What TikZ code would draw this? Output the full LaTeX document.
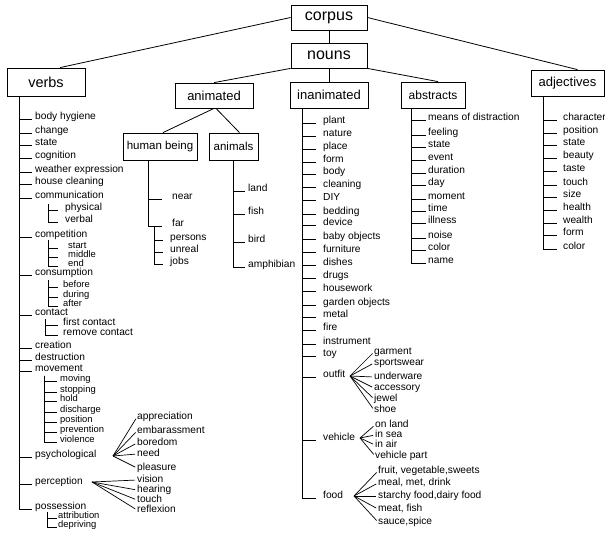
\documentclass[tikz,border=0pt]{standalone}
\usepackage{fontspec}
\setmainfont{Liberation Sans}
\tikzset{
  category/.style={draw, line width=0.8pt, inner sep=0pt, minimum height=26pt,
    font=\fontsize{13}{15}\selectfont},
  leaf/.style={anchor=west, inner sep=0pt, text height=7.5pt, text depth=2pt,
    font=\fontsize{10.2}{12}\selectfont},
  tight leaf/.style={text height=6.5pt, text depth=1.5pt, font=\fontsize{9.4}{10}\selectfont},
  twig/.style={line width=0.7pt},
  link/.style={line width=0.8pt},
}
\newcommand{\tikzleaves}[5][]{%
% ticks hang from the coordinate #2-trunk
\foreach \y/\lbl [count=\i] in {#5} {%
  \node[leaf,#1] (#2-\i) at (#4,\y) {\lbl};
  \draw[twig] (#2-trunk) |- ([xshift=-#3pt,yshift=-2pt]#2-\i.west);
}
}
\newcommand{\tikzfan}[3]{%
% rays start at the coordinate #1-fan
\foreach \y/\lbl [count=\i] in {#3} {%
  \node[leaf] (#1-\i) at (#2,\y) {\lbl};
  \draw[twig,shorten >=2pt] (#1-fan) -- (#1-\i.west);
}
}
\begin{document}
\begin{tikzpicture}[x=1pt, y=-1pt]
\useasboundingbox (0,0) rectangle (605,534);
% categories
\node[category, minimum width=76pt, minimum height=25pt, font=\fontsize{16}{18}\selectfont] (corpus) at (329,17.5) {corpus};
\node[category, minimum width=76pt, minimum height=25pt, font=\fontsize{16}{18}\selectfont] (nouns) at (329,55.5) {nouns};
\node[category, minimum width=78pt, minimum height=28pt, font=\fontsize{14.5}{16}\selectfont] (verbs) at (46,82) {verbs};
\node[category, minimum width=78pt, minimum height=25pt] (animated) at (214,95.5) {animated};
\node[category, minimum width=78pt] (inanimated) at (329,95) {inanimated};
\node[category, minimum width=64pt, font=\fontsize{12}{14}\selectfont] (abstracts) at (433,95) {abstracts};
\node[category, minimum width=73pt] (adjectives) at (567.5,83) {adjectives};
\node[category, minimum width=74pt, minimum height=27pt, font=\fontsize{11.5}{13}\selectfont] (human) at (160,146.5) {human being};
\node[category, minimum width=49pt, minimum height=27pt, font=\fontsize{11.5}{13}\selectfont] (animals) at (233.5,146.5) {animals};

\draw[link] (corpus.west) -- ([xshift=14pt]verbs.north);
\draw[link] (corpus.east) -- ([xshift=10pt]adjectives.north);
\draw[link] (corpus) -- (nouns);
\draw[link] (nouns.south west) -- (animated.north);
\draw[link] (nouns) -- (inanimated);
\draw[link] (nouns.south east) -- ([xshift=5pt]abstracts.north);
\draw[link] (animated.south) -- ([xshift=3pt]human.north);
\draw[link] ([xshift=2pt]animated.south) -- ([xshift=6pt]animals.north);

% verbs
\coordinate (verb-trunk) at ([xshift=13pt]verbs.south west);
\tikzleaves{verb}{3}{35}{117/body hygiene, 131/change, 143/state, 156/cognition,
  170/weather expression, 182/house cleaning, 196/communication, 235/competition,
  273/consumption, 313/contact, 346/creation, 358/destruction, 369/movement,
  455/psychological, 482/perception, 507/possession}
\coordinate (comm-trunk) at (48,204);
\tikzleaves{comm}{7}{65}{208/physical, 220/verbal}
\coordinate (compet-trunk) at (48,240);
\tikzleaves[tight leaf]{compet}{10}{68}{246/start, 255/middle, 264/end}
\coordinate (consum-trunk) at (48,280);
\tikzleaves[tight leaf]{consum}{5}{63}{285/before, 295/during, 304/after}
\coordinate (contact-trunk) at (45,319);
\tikzleaves{contact}{5}{63}{323/first contact, 333/remove contact}
\coordinate (move-trunk) at (44,376);
\tikzleaves[tight leaf]{move}{3}{60}{379/moving, 390/stopping, 399/hold, 410/discharge,
  420/position, 430/prevention, 440/violence}
\coordinate (poss-trunk) at (47,512);
\tikzleaves[tight leaf]{poss}{1}{58}{516/attribution, 525/depriving}
\coordinate (psych-fan) at (113,456);
\tikzfan{psych}{137}{417/appreciation, 431/embarassment, 443/boredom, 454/need, 468/pleasure}
\coordinate (percep-fan) at (92,482);
\tikzfan{percep}{137}{480/vision, 490/hearing, 500/touch, 510/reflexion}

% animated
\coordinate (human-trunk) at ([xshift=26pt]human.south west);
\tikzleaves{human}{10}{172}{197/near, 224/far}
\coordinate (far-trunk) at (154,226);
\tikzleaves{far}{7}{170}{238/persons, 250/unreal, 262/jobs}
\coordinate (animal-trunk) at ([xshift=25pt]animals.south west);
\tikzleaves{animal}{3}{248}{189/land, 212/fish, 240/bird, 265/amphibian}

% inanimated
\coordinate (inan-trunk) at ([xshift=13pt]inanimated.south west);
\tikzleaves{inan}{7}{323}{121/plant, 134/nature, 147/place, 160/form, 172/body,
  185/cleaning, 198/DIY, 212/bedding, 223/device, 237/baby objects, 250/furniture,
  263/dishes, 276/drugs, 289/housework, 303/garden objects, 315/metal, 328/fire,
  342/instrument, 354/toy, 375/outfit, 438/vehicle, 496/food}
\coordinate (outfit-fan) at (350,376);
\tikzfan{outfit}{374}{352/garment, 363/sportswear, 377/underware, 388/accessory,
  399/jewel, 410/shoe}
\coordinate (vehicle-fan) at (360,438);
\tikzfan{vehicle}{375}{425/on land, 435/in sea, 445/in air, 456/vehicle part}
\coordinate (food-fan) at (354,496);
\tikzfan{food}{378}{471/{fruit, vegetable,sweets}, 483/{meal, met, drink},
  496/{starchy food,dairy food}, 509/{meat, fish}, 522/{sauce,spice}}

% abstracts
\coordinate (abstr-trunk) at ([xshift=11pt]abstracts.south west);
\tikzleaves{abstr}{2}{428}{118/means of distraction, 133/feeling, 145/state,
  158/event, 171/duration, 183/day, 197/moment, 209/time, 221/illness,
  236/noise, 248/color, 261/name}

% adjectives
\coordinate (adj-trunk) at ([xshift=13pt]adjectives.south west);
\tikzleaves{adj}{6}{563}{118/character, 131/position, 143/state, 156/beauty,
  169/taste, 183/touch, 195/size, 208/health, 221/wealth, 233/form, 247/color}
\end{tikzpicture}
\end{document}
